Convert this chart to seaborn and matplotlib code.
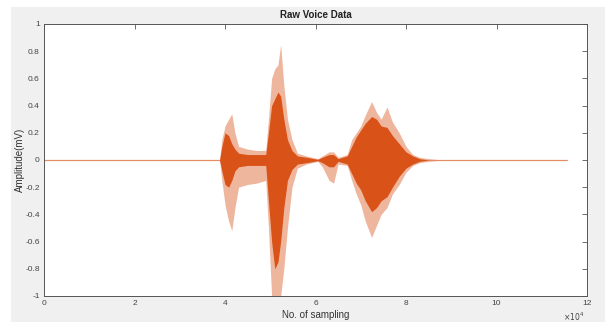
import numpy as np
import pandas as pd
import matplotlib
matplotlib.use("Agg")
import matplotlib.pyplot as plt
import seaborn as sns

# Envelope of the raw voice signal (x in units of 1e4 samples)
sample_pos = [0, 3.88, 3.93, 4.0, 4.08, 4.15, 4.22, 4.3, 4.5, 4.7, 4.9, 4.96, 5.03, 5.1, 5.17,
              5.23, 5.3, 5.38, 5.48, 5.6, 5.8, 6.05, 6.15, 6.3, 6.4, 6.5, 6.7, 6.8, 6.9, 7.0,
              7.1, 7.24, 7.35, 7.45, 7.58, 7.7, 7.85, 8.0, 8.15, 8.3, 8.5, 8.7, 11.56]
upper_peak = [0.004, 0.004, 0.15, 0.25, 0.3, 0.34, 0.2, 0.1, 0.08, 0.07, 0.07, 0.3, 0.6, 0.67, 0.7,
              0.85, 0.55, 0.3, 0.15, 0.05, 0.03, 0.01, 0.03, 0.06, 0.06, 0.02, 0.04, 0.15, 0.2, 0.25,
              0.33, 0.43, 0.35, 0.3, 0.39, 0.28, 0.2, 0.1, 0.04, 0.02, 0.01, 0.004, 0.004]
lower_peak = [-0.004, -0.004, -0.15, -0.33, -0.45, -0.52, -0.35, -0.2, -0.18, -0.17, -0.15, -0.5, -1.0, -1.0, -1.0,
              -1.0, -0.8, -0.5, -0.2, -0.06, -0.03, -0.01, -0.05, -0.15, -0.17, -0.03, -0.04, -0.15, -0.25, -0.33,
              -0.45, -0.57, -0.48, -0.4, -0.35, -0.25, -0.18, -0.09, -0.04, -0.02, -0.01, -0.004, -0.004]
upper_dense = [0.0, 0.0, 0.1, 0.2, 0.18, 0.12, 0.08, 0.05, 0.04, 0.04, 0.04, 0.2, 0.4, 0.45, 0.5,
               0.47, 0.3, 0.15, 0.07, 0.03, 0.02, 0.005, 0.02, 0.04, 0.04, 0.01, 0.03, 0.1, 0.17, 0.22,
               0.27, 0.32, 0.3, 0.25, 0.24, 0.18, 0.12, 0.06, 0.03, 0.01, 0.0, 0.0, 0.0]
lower_dense = [0.0, 0.0, -0.08, -0.18, -0.2, -0.15, -0.08, -0.05, -0.04, -0.04, -0.04, -0.3, -0.6, -0.8, -0.75,
               -0.6, -0.35, -0.15, -0.07, -0.03, -0.02, -0.005, -0.02, -0.05, -0.05, -0.01, -0.03, -0.1, -0.17, -0.22,
               -0.3, -0.38, -0.35, -0.3, -0.27, -0.2, -0.12, -0.06, -0.03, -0.01, 0.0, 0.0, 0.0]

x_ticks = [0, 2, 4, 6, 8, 10, 12]
x_tick_labels = ["0", "2", "4", "6", "8", "10", "12"]
y_ticks = [-1, -0.8, -0.6, -0.4, -0.2, 0, 0.2, 0.4, 0.6, 0.8, 1]
y_tick_labels = ["-1", "-0.8", "-0.6", "-0.4", "-0.2", "0", "0.2", "0.4", "0.6", "0.8", "1"]

sns.set_theme(style="white")
plt.rcParams['font.family'] = ['Liberation Sans', 'DejaVu Sans']

df = pd.DataFrame({
    "x": np.array(sample_pos) * 1e4,
    "up": upper_peak, "lo": lower_peak,
    "ud": upper_dense, "ld": lower_dense,
})

fig = plt.figure(figsize=(6.05, 3.22), dpi=100, facecolor="white")
# grey MATLAB figure background
fig.patches.append(plt.Rectangle((11 / 605, 0), 1 - 11 / 605, 1 - 7 / 322,
                                 transform=fig.transFigure, facecolor="#f0f0f0",
                                 edgecolor="none", zorder=-10))
ax = fig.add_axes([44 / 605, 26 / 322, 543 / 605, 272 / 322])
ax.set_facecolor("white")

orange = "#d95319"
sns.lineplot(data=df, x="x", y=np.zeros(len(df)), ax=ax, color="#eeb69c", linewidth=0.9, zorder=1)
ax.fill_between(df["x"], df["lo"], df["up"], color=orange, alpha=0.42, linewidth=0, zorder=2)
ax.fill_between(df["x"], df["ld"], df["ud"], color=orange, alpha=1.0, linewidth=0, zorder=3)

ax.set_xlim(0, 12e4)
ax.set_ylim(-1, 1)
ax.set_xticks([t * 1e4 for t in x_ticks])
ax.set_xticklabels(x_tick_labels)
ax.set_yticks(y_ticks)
ax.set_yticklabels(y_tick_labels)
ax.tick_params(axis="both", direction="in", length=3.5, width=0.6, colors="#555555",
               labelsize=6, top=True, right=True, pad=3, labelcolor="#444444")
for s in ax.spines.values():
    s.set_color("#555555")
    s.set_linewidth(0.7)

ax.set_title("Raw Voice Data", fontsize=7, fontweight="bold", color="#222222", pad=4)
ax.set_xlabel("No. of sampling", fontsize=7, color="#333333", labelpad=2)
ax.set_ylabel("Amplitude(mV)", fontsize=7, color="#333333", labelpad=0)
ax.text(0.995, -0.075, r"$\times10^4$", transform=ax.transAxes, ha="right", va="center",
        fontsize=5.5, color="#444444")

fig.savefig("out.png", dpi=100, facecolor=fig.get_facecolor())
